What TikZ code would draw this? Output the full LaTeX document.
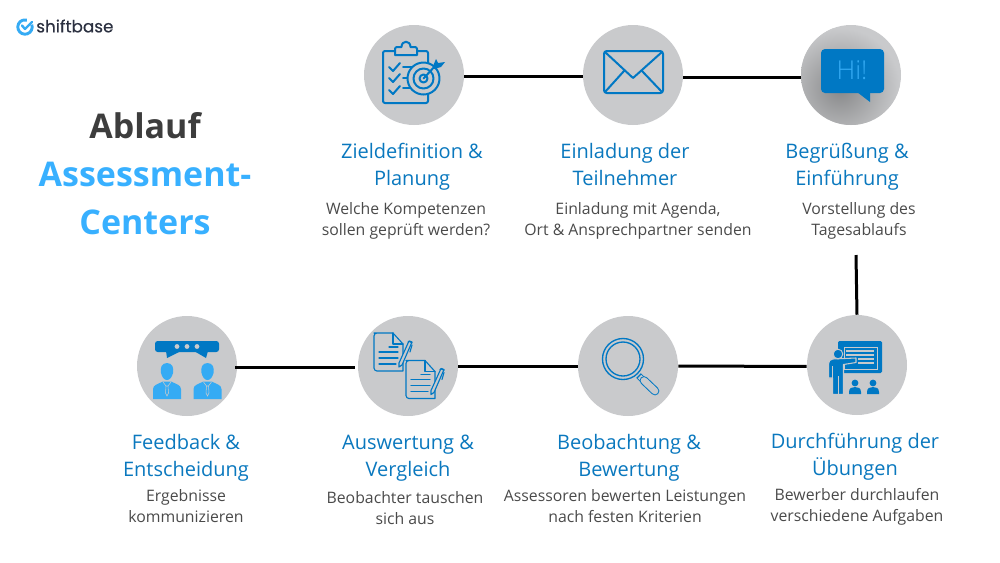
\documentclass[tikz,border=0pt]{standalone}
\usepackage{fontspec}
\setmainfont{Open Sans}
\newfontfamily\logofont[FakeBold=0.4]{Poppins}
\newfontfamily\hifont{Open Sans Light}
\usetikzlibrary{calc}
\definecolor{cdark}{HTML}{0078C4}
\definecolor{clight}{HTML}{35ABF4}
\definecolor{chead}{HTML}{0A78BE}
\definecolor{ctitle}{HTML}{38B0FF}
\definecolor{cgrey}{HTML}{C9CACC}
\definecolor{ctext}{HTML}{4A4A4A}
\definecolor{cblack}{HTML}{3D3D3D}
\definecolor{clogo}{HTML}{2B3040}
\tikzset{
  circ/.style={circle,fill=cgrey,minimum size=75pt,inner sep=0pt},
  link/.style={line width=2.25pt,black},
  headt/.style={align=center,inner sep=0pt,text=chead,font=\fontsize{15pt}{20.25pt}\selectfont,execute at begin node=\strut,execute at end node=\strut},
  bodyt/.style={align=center,inner sep=0pt,text=ctext,font=\fontsize{11.85pt}{15.75pt}\selectfont,execute at begin node=\strut,execute at end node=\strut},
  titlet/.style={align=center,inner sep=0pt,font=\fontsize{25.5pt}{36.4pt}\selectfont\bfseries},
  ln/.style={cdark,line width=1.5pt,line join=round,line cap=round},
  lnthin/.style={cdark,line width=0.85pt,line join=round,line cap=round},
  docicon/.pic={
    \draw[lnthin,fill=cgrey] (374,333) -- (393,333) -- (403,344) -- (403,371) -- (377,371) to[out=180,in=-90] (374,368) -- (374,336) to[out=90,in=180] (377,333) -- cycle;
    \draw[lnthin] (393,333) -- (393,344) -- (403,344);
    \draw[lnthin] (389,347) -- (398,347) (379,352) -- (398,352) (379,358) -- (398,358) (379,364) -- (396,364);
    \draw[lnthin,fill=cgrey] (399,363) -- (409,341) -- (412,342) -- (402,365) -- (399,367) -- cycle;
    \draw[lnthin] (408,342) to[out=60,in=120] (412,343) (412,345) -- (410,352);
  },
  personicon/.pic={
    \fill[clight] (167,363) .. controls (172.5,363) and (174,368) .. (173,373) .. controls (172,377) and (170,380) .. (167,380) .. controls (164,380) and (162,377) .. (161,373) .. controls (160,368) and (161.5,363) .. (167,363) -- cycle;
    \fill[clight] (153,399) -- (153,389) .. controls (153,385) and (158,384) .. (163,381.5) -- (171,381.5) .. controls (176,384) and (181,385) .. (181,389) -- (181,399) -- cycle;
    \draw[cgrey,line width=0.4pt] (163,382) -- (166,386) -- (168,386) -- (171,382) (166,386) -- (165.5,393) -- (167,396) -- (168.5,393) -- (168,386);
  },
  pupilicon/.pic={
    \fill[cdark] (855,383) circle (3.4);
    \fill[cdark] (849,394) -- (849,392) .. controls (849,388) and (852,387) .. (855,387) .. controls (858,387) and (861,388) .. (861,392) -- (861,394) -- cycle;
  }
}
\begin{document}
\begin{tikzpicture}[x=0.75pt,y=-0.75pt]
\useasboundingbox (0,0) rectangle (1000,562);
% circles
\node[circ] (c1) at (414,75) {};
\node[circ] (c2) at (633,75) {};
\node[circ] (c3) at (851,75) {};
\node[circ] (c4) at (857,365) {};
\node[circ] (c5) at (628,366) {};
\node[circ] (c6) at (408,366) {};
\node[circ] (c7) at (187,366) {};
\coordinate (top4) at (856,255);
% shadow of Hi
\begin{scope}
\clip (851,75) circle (50);
\shade[inner color=black!33!cgrey,outer color=cgrey] (840,88) circle (60);
\end{scope}
% connectors
\draw[link] ([yshift=-0.75pt]c1.east) -- ([yshift=-0.75pt]c2.west);
\draw[link] ([yshift=-1.5pt]c2.east) -- ([yshift=-1.5pt]c3.west);
\draw[link] (top4) -- (c4.north);
\draw[link] ([yshift=-1.1pt]c4.west) -- ([yshift=0pt]c5.east);
\draw[link] (c5.west) -- (c6.east);
\draw[link,shorten >=2.25pt,shorten <=-1.5pt] ([yshift=-0.75pt]c7.east) -- ([yshift=-0.75pt]c6.west);
% icon 1
\draw[ln] (395,51) -- (385,51) to[out=180,in=90] (383,53) -- (383,101) to[out=-90,in=180] (385,103) -- (426,103) to[out=0,in=-90] (428,101) -- (428,53) to[out=90,in=0] (426,51) -- (417,51);
\draw[ln,fill=cgrey] (395,55) -- (395,49) to[out=90,in=180] (397,47) -- (401.5,47) .. controls (401.5,40) and (410.5,40) .. (410.5,47) -- (415,47) to[out=0,in=90] (417,49) -- (417,55) -- cycle;
\draw[ln] (389,67) -- (393,71) -- (400,63) (389,78) -- (393,82) -- (400,74) (389,90) -- (393,94) -- (400,86);
\draw[ln] (403,67) -- (414,67) (403,78) -- (412,78) (403,88) -- (414,88);
\draw[ln,fill=cgrey] (423.5,78.5) circle (16);
\draw[ln] (423.5,78.5) circle (10) (423.5,78.5) circle (4);
\draw[ln] (423.5,78.5) -- (436,65);
\fill[cdark] (433,66) -- (436,59) -- (438,63) -- (445,62) -- (441,67) -- (434,69) -- cycle;
% icon 2
\draw[ln,rounded corners=2pt] (604,51) rectangle (663,93);
\draw[ln] (605,52) -- (633,78) -- (662,52) (605,92) -- (624,71) (662,92) -- (642,71);
% icon 3
\fill[cdark,rounded corners=3pt] (821,49) rectangle (884,93);
\fill[cdark] (857,92) -- (870,102) -- (870,92) -- cycle;
\node[inner sep=0pt,text=clight,font=\hifont\fontsize{19.5pt}{20pt}\selectfont] (hi) at (852,70) {Hi!};
% icon 4
\fill[cdark,rounded corners=1pt] (838,341) rectangle (882,373);
\draw[cgrey,line width=0.6pt] (844,347) rectangle (877,369);
\draw[cgrey,line width=0.8pt] (846,351) -- (874,351) (846,355) -- (874,355) (858,359) -- (874,359) (858,363) -- (874,363);
\draw[cgrey,fill=cdark,line width=0.8pt,line join=round] (832.5,394.5) -- (832.5,378) -- (828.5,378) -- (828.5,364) to[out=90,in=180] (832.5,359) -- (856,358) -- (856,362.5) -- (843.5,364.5) -- (843.5,394.5) -- cycle;
\draw[cgrey,line width=0.6pt] (838,376) -- (838,395) (832.5,366) -- (832.5,378);
\draw[cgrey,fill=cdark,line width=0.7pt] (838,354) circle (4.8);
\pic at (0,0) {pupilicon};
\pic at (18,0) {pupilicon};
% icon 5
\draw[cdark,line width=5pt] (638.5,375.5) -- (643,380);
\draw[cgrey,line width=3.5pt] (639.5,376.5) -- (642.5,379.5);
\draw[cdark,line width=6.5pt,line cap=round] (644,380.5) -- (655,391);
\draw[cgrey,line width=5pt,line cap=round] (644,380.5) -- (655,391);
\draw[ln,line width=1pt] (623,359) circle (20.5) (623,359) circle (17);
% icon 6
\pic at (0,0) {docicon};
\pic at (32,27.5) {docicon};
% icon 7
\fill[cdark,rounded corners=2pt] (155,341) rectangle (219,352);
\fill[cdark] (166,351) -- (167,358) -- (181,351) -- cycle (194,351) -- (206,358) -- (208,351) -- cycle;
\fill[cgrey] (177,346.5) circle (2.4) (187,346.5) circle (2.4) (197,346.5) circle (2.4);
\pic at (0,0) {personicon};
\pic at (40.5,0) {personicon};
% logo
\draw[clight,line width=2.2pt] (25,27) ++(340:7.2) arc (340:645:7.2);
\draw[clight,line width=1.8pt,line cap=round,line join=round] (22,25.5) -- (25,29) -- (32,22);
\node[inner sep=0pt,anchor=west,text=clogo,font=\logofont\fontsize{12.6pt}{14pt}\selectfont] (logo) at (36,26) {shiftbase};
% title
\node[titlet,text=cblack] (tt1) at (145,125.5) {Ablauf};
\node[titlet,text=ctitle] (tt2) at (145,198.5) {Assessment-\\Centers};
% text
\node[headt] (h1) at (412,168.6) {Zieldefinition \&\\Planung};
\node[bodyt] (b1) at (406,222) {Welche Kompetenzen\\sollen geprüft werden?};
\node[headt] (h2) at (625,168.6) {Einladung der\\Teilnehmer};
\node[bodyt] (b2) at (638,222) {Einladung mit Agenda,\\Ort \& Ansprechpartner senden};
\node[headt] (h3) at (847,168.6) {Begrüßung \&\\Einführung};
\node[bodyt] (b3) at (859,222) {Vorstellung des\\Tagesablaufs};
\node[headt] (h4) at (855,458.6) {Durchführung der\\Übungen};
\node[bodyt] (b4) at (857,507.8) {Bewerber durchlaufen\\verschiedene Aufgaben};
\node[headt] (h5) at (629,459.6) {Beobachtung \&\\Bewertung};
\node[bodyt] (b5) at (625,508.8) {Assessoren bewerten Leistungen\\nach festen Kriterien};
\node[headt] (h6) at (408,459.6) {Auswertung \&\\Vergleich};
\node[bodyt] (b6) at (405,510.8) {Beobachter tauschen\\sich aus};
\node[headt] (h7) at (186,459.6) {Feedback \&\\Entscheidung};
\node[bodyt] (b7) at (186,508.8) {Ergebnisse\\kommunizieren};
\end{tikzpicture}
\end{document}
